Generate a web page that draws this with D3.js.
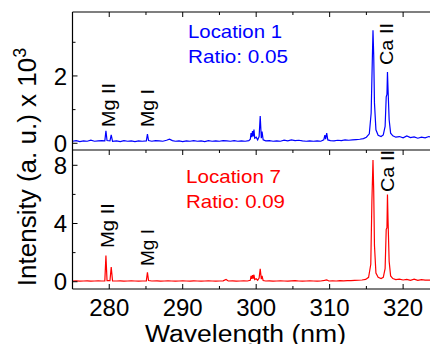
<!DOCTYPE html>
<html>
<head>
<meta charset="utf-8">
<script src="https://cdn.jsdelivr.net/npm/d3@7/dist/d3.min.js"></script>
<style>
  html, body { margin: 0; padding: 0; background: #fff; }
  svg { display: block; font-family: "Liberation Sans", Arial, sans-serif; }
</style>
</head>
<body>
<svg id="chart" width="430" height="344"></svg>
<script>
// ---------- Data (intensity in units of 10^3, a.u.) ----------
const majorTicksX = [280, 290, 300, 310, 320];
const minorTicksX = [285, 295, 305, 315];
const topTicks = [0, 2];
const topMinor = [1, 3];
const bottomTicks = [0, 4, 8];
const bottomMinor = [2, 6];

// Location 1 spectrum [wavelength nm, intensity]
const location1 = [
  [275.0,0.06],[275.5,0.08],[276.0,0.05],[276.5,0.07],[277.0,0.06],[277.5,0.09],[278.0,0.06],
  [278.5,0.07],[279.0,0.08],[279.4,0.07],[279.55,0.37],[279.7,0.08],[280.1,0.07],[280.27,0.25],
  [280.45,0.06],[281.0,0.07],[281.5,0.05],[282.0,0.08],[282.5,0.06],[283.0,0.07],[283.5,0.05],
  [284.0,0.07],[284.5,0.06],[285.05,0.07],[285.2,0.27],[285.35,0.08],[285.8,0.06],[286.3,0.08],
  [286.8,0.07],[287.3,0.06],[287.8,0.09],[288.2,0.12],[288.6,0.08],[289.0,0.06],[289.5,0.07],
  [290.0,0.05],[290.5,0.07],[291.0,0.06],[291.5,0.08],[292.0,0.06],[292.5,0.07],[293.0,0.05],
  [293.5,0.08],[294.0,0.06],[294.5,0.07],[295.0,0.06],[295.5,0.08],[296.0,0.07],[296.5,0.06],
  [297.0,0.08],[297.5,0.06],[298.0,0.07],[298.5,0.06],[299.0,0.08],[299.2,0.12],[299.3,0.30],
  [299.4,0.18],[299.5,0.36],[299.6,0.20],[299.7,0.41],[299.8,0.15],[300.0,0.18],[300.2,0.10],
  [300.4,0.20],[300.55,0.81],[300.7,0.15],[300.8,0.35],[300.95,0.10],[301.3,0.07],[301.8,0.08],
  [302.3,0.06],[302.8,0.07],[303.3,0.06],[303.8,0.09],[304.3,0.07],[304.8,0.10],[305.3,0.08],
  [305.8,0.09],[306.3,0.07],[306.8,0.06],[307.3,0.07],[307.8,0.06],[308.3,0.07],[308.8,0.06],
  [309.2,0.10],[309.35,0.24],[309.45,0.12],[309.6,0.30],[309.75,0.10],[310.1,0.08],[310.6,0.07],
  [311.1,0.09],[311.6,0.08],[312.1,0.10],[312.6,0.09],[313.1,0.10],[313.6,0.11],[314.1,0.12],
  [314.6,0.14],[315.0,0.18],[315.4,0.28],[315.65,0.90],[315.8,2.40],[315.9,3.36],[316.0,2.60],
  [316.1,1.20],[316.3,0.40],[316.6,0.24],[317.0,0.20],[317.3,0.25],[317.55,0.50],[317.7,1.38],
  [317.8,1.45],[317.87,2.12],[317.95,1.60],[318.1,0.70],[318.3,0.30],[318.6,0.22],[319.0,0.18],
  [319.5,0.20],[320.0,0.16],[320.5,0.22],[321.0,0.17],[321.5,0.19],[322.0,0.15],[322.5,0.18],
  [323.0,0.16],[323.5,0.20],[324.0,0.17]
];

// Location 7 spectrum [wavelength nm, intensity]
const location7 = [
  [275.0,0.05],[275.5,0.06],[276.0,0.04],[276.5,0.05],[277.0,0.06],[277.5,0.04],[278.0,0.05],
  [278.5,0.06],[279.0,0.05],[279.4,0.06],[279.55,1.80],[279.7,0.08],[280.1,0.07],[280.27,1.00],
  [280.45,0.06],[281.0,0.05],[281.5,0.06],[282.0,0.04],[282.5,0.05],[283.0,0.06],[283.5,0.05],
  [284.0,0.04],[284.5,0.05],[285.05,0.06],[285.2,0.64],[285.35,0.08],[285.8,0.05],[286.5,0.06],
  [287.0,0.04],[287.5,0.05],[288.0,0.06],[288.5,0.05],[289.0,0.04],[289.5,0.05],[290.0,0.06],
  [290.5,0.05],[291.0,0.04],[291.5,0.06],[292.0,0.05],[292.5,0.04],[293.0,0.05],[293.5,0.06],
  [294.0,0.05],[294.5,0.04],[295.0,0.05],[295.5,0.06],[295.9,0.15],[296.2,0.05],[296.8,0.06],
  [297.3,0.04],[297.8,0.05],[298.3,0.06],[298.8,0.05],[299.2,0.10],[299.3,0.40],[299.4,0.20],
  [299.5,0.45],[299.6,0.22],[299.7,0.48],[299.8,0.15],[300.0,0.20],[300.2,0.10],[300.4,0.25],
  [300.55,0.89],[300.7,0.18],[300.8,0.40],[300.95,0.08],[301.3,0.05],[301.8,0.06],[302.3,0.04],
  [302.8,0.05],[303.3,0.06],[303.8,0.05],[304.3,0.04],[304.8,0.06],[305.3,0.07],[305.8,0.05],
  [306.3,0.04],[306.8,0.05],[307.3,0.06],[307.8,0.05],[308.3,0.04],[308.8,0.05],[309.3,0.09],
  [309.6,0.12],[309.9,0.05],[310.4,0.06],[310.9,0.05],[311.4,0.07],[311.9,0.06],[312.4,0.08],
  [312.9,0.07],[313.4,0.09],[313.9,0.10],[314.4,0.12],[314.9,0.16],[315.3,0.30],[315.6,1.20],
  [315.75,5.50],[315.9,8.36],[316.0,6.20],[316.1,2.50],[316.3,0.60],[316.6,0.30],[317.0,0.22],
  [317.3,0.30],[317.55,0.90],[317.7,3.60],[317.8,3.70],[317.87,6.00],[317.95,4.20],[318.1,1.40],
  [318.3,0.40],[318.6,0.22],[319.0,0.15],[319.5,0.18],[320.0,0.12],[320.5,0.16],[321.0,0.10],
  [321.5,0.18],[322.0,0.10],[322.5,0.14],[323.0,0.11],[323.5,0.12],[324.0,0.10]
];

// ---------- Layout ----------
const svg = d3.select('#chart');
const left = 72.5, right = 432.5;
const top1 = 12, mid = 150, bottom2 = 289;

const x = d3.scaleLinear().domain([275, 324]).range([left, right]);
const yTop = d3.scaleLinear().domain([-0.2, 3.9]).range([mid, top1]);
const yBot = d3.scaleLinear().domain([-0.5, 9.05]).range([bottom2, mid]);

const defs = svg.append('defs');
defs.append('clipPath').attr('id', 'clipTop')
  .append('rect').attr('x', left).attr('y', top1).attr('width', right - left).attr('height', mid - top1);
defs.append('clipPath').attr('id', 'clipBot')
  .append('rect').attr('x', left).attr('y', mid).attr('width', right - left).attr('height', bottom2 - mid);

// ---------- Spectra ----------
const lineTop = d3.line().x(d => x(d[0])).y(d => yTop(d[1]));
const lineBot = d3.line().x(d => x(d[0])).y(d => yBot(d[1]));

svg.append('path').datum(location1)
  .attr('clip-path', 'url(#clipTop)')
  .attr('fill', 'none').attr('stroke', '#0000ff').attr('stroke-width', 1.2)
  .attr('d', lineTop);

svg.append('path').datum(location7)
  .attr('clip-path', 'url(#clipBot)')
  .attr('fill', 'none').attr('stroke', '#ff0000').attr('stroke-width', 1.2)
  .attr('d', lineBot);

// ---------- Frame ----------
const frame = svg.append('g').attr('stroke', '#000').attr('stroke-width', 1.2).attr('fill', 'none');
frame.append('line').attr('x1', left).attr('x2', right).attr('y1', top1).attr('y2', top1);
frame.append('line').attr('x1', left).attr('x2', right).attr('y1', mid).attr('y2', mid);
frame.append('line').attr('x1', left).attr('x2', right).attr('y1', bottom2).attr('y2', bottom2);
frame.append('line').attr('x1', left).attr('x2', left).attr('y1', top1).attr('y2', bottom2);

// ---------- Ticks (inward) ----------
const ticks = svg.append('g').attr('stroke', '#000').attr('stroke-width', 1);
function xTicks(vals, y0, len) {
  ticks.selectAll(null).data(vals).join('line')
    .attr('x1', d => x(d)).attr('x2', d => x(d))
    .attr('y1', y0).attr('y2', y0 + len);
}
xTicks(majorTicksX, top1, 5);
xTicks(minorTicksX, top1, 3);
xTicks(majorTicksX, mid, 5);
xTicks(minorTicksX, mid, 3);
xTicks(majorTicksX, bottom2, -5);
xTicks(minorTicksX, bottom2, -3);

function yTicks(vals, scale, len) {
  ticks.selectAll(null).data(vals).join('line')
    .attr('x1', left).attr('x2', left + len)
    .attr('y1', d => scale(d)).attr('y2', d => scale(d));
}
yTicks(topTicks, yTop, 5);
yTicks(topMinor, yTop, 3);
yTicks(bottomTicks, yBot, 5);
yTicks(bottomMinor, yBot, 3);

// ---------- Tick labels ----------
const lab = svg.append('g').attr('font-size', 24).attr('fill', '#000');
lab.selectAll(null).data(topTicks).join('text')
  .attr('x', 67).attr('y', d => yTop(d)).attr('dy', '0.36em')
  .attr('text-anchor', 'end').text(d => d);
lab.selectAll(null).data(bottomTicks).join('text')
  .attr('x', 67).attr('y', d => yBot(d)).attr('dy', '0.36em')
  .attr('text-anchor', 'end').text(d => d);
lab.selectAll(null).data(majorTicksX).join('text')
  .attr('x', d => x(d)).attr('y', 316)
  .attr('text-anchor', 'middle').text(d => d);

// ---------- Axis titles ----------
svg.append('text').attr('x', 145).attr('y', 342)
  .attr('font-size', 23).attr('textLength', 201).attr('lengthAdjust', 'spacingAndGlyphs')
  .text('Wavelength (nm)');

const yTitle = svg.append('text')
  .attr('transform', 'translate(36,167) rotate(-90)')
  .attr('text-anchor', 'middle').attr('font-size', 26);
yTitle.append('tspan').text('Intensity (a. u.) x 10');
yTitle.append('tspan').attr('font-size', 18).attr('dy', -10).text('3');

// ---------- Annotations ----------
function note(txt, xp, yp, len, color) {
  svg.append('text').attr('x', xp).attr('y', yp).attr('font-size', 19)
    .attr('textLength', len).attr('lengthAdjust', 'spacingAndGlyphs')
    .attr('fill', color).text(txt);
}
note('Location 1', 188, 38, 94, '#0000ff');
note('Ratio: 0.05', 188, 63, 100, '#0000ff');
note('Location 7', 186, 183, 95, '#ff0000');
note('Ratio: 0.09', 186, 208, 99, '#ff0000');

// rotated line labels: baseline x, start y (bottom), length along text
function lineLabel(txt, xp, yp, len) {
  svg.append('text').attr('transform', `translate(${xp},${yp}) rotate(-90)`)
    .attr('font-size', 18.5).attr('textLength', len).attr('lengthAdjust', 'spacingAndGlyphs')
    .attr('fill', '#000').text(txt);
}
lineLabel('Mg II', 115, 127, 44);
lineLabel('Mg I', 153.5, 127, 38);
lineLabel('Ca II', 393, 65, 42);
lineLabel('Mg II', 114, 248, 45);
lineLabel('Mg I', 154, 266, 37);
lineLabel('Ca II', 393.5, 192, 42);
</script>
</body>
</html>
